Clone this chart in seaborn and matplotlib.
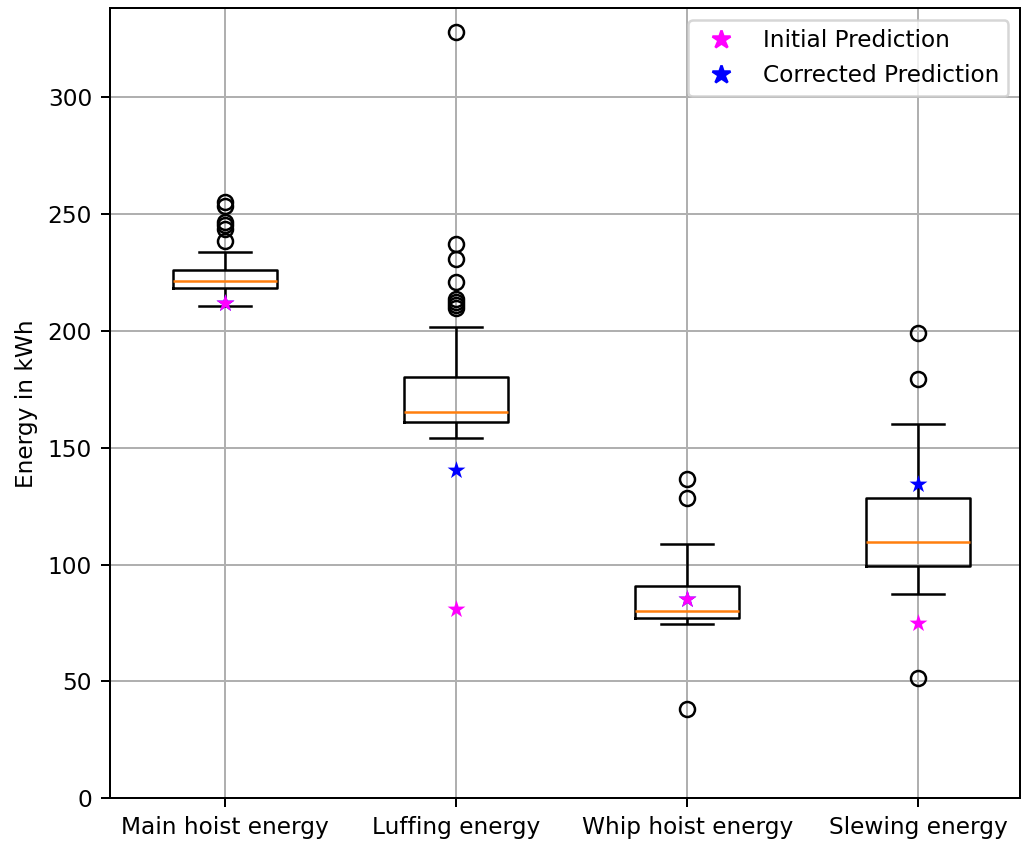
import numpy as np
import pandas as pd
import matplotlib
matplotlib.use("Agg")
import matplotlib.pyplot as plt
from matplotlib.lines import Line2D
import seaborn as sns

categories = ["Main hoist energy", "Luffing energy", "Whip hoist energy", "Slewing energy"]
whisker_low = [210.5, 154.3, 74.7, 87.5]
q1 = [218.5, 160.9, 77.2, 99.3]
median = [221.3, 165.3, 80.3, 109.7]
q3 = [226.2, 180.1, 90.7, 128.5]
whisker_high = [233.6, 201.6, 108.7, 160.0]
outliers_low = [[], [], [38.0], [51.6]]
outliers_high = [[238.3, 243.4, 245.2, 246.6, 253.4, 255.0],
                 [209.8, 211.2, 212.5, 213.8, 221.1, 230.6, 237.3, 327.9],
                 [128.4, 136.5],
                 [179.2, 199.1]]
initial_pred = [211.8, 81.1, 85.4, 75.1]
corrected_pred = [211.8, 140.6, 85.4, 134.6]

# Build a sample per category whose quartiles/whiskers/outliers reproduce the read stats
rows = []
for i, cat in enumerate(categories):
    L, H = outliers_low[i], outliers_high[i]
    k = max(len(L) + 1, len(H) + 1)
    low = list(L) + [whisker_low[i]] + [q1[i]] * (k - 1 - len(L))
    mid1 = [q1[i]] + [median[i]] * k
    mid2 = [q3[i]] * k
    high = [q3[i]] * (k - 1 - len(H)) + [whisker_high[i]] + list(H)
    for v in low + mid1 + mid2 + high:
        rows.append((cat, v))
df = pd.DataFrame(rows, columns=["category", "energy"])

plt.rcParams["font.size"] = 9.3

fig = plt.figure(figsize=(1024 / 180, 842 / 180), dpi=180)
ax = fig.add_axes([0.107, 0.052, 0.889, 0.938])

sns.boxplot(data=df, x="category", y="energy", order=categories, ax=ax,
            fill=False, color="black", linecolor="black", width=0.45, linewidth=1,
            whis=1.5, fliersize=6,
            medianprops=dict(color="#ff7f0e", linewidth=1),
            flierprops=dict(marker="o", markerfacecolor="none", markeredgecolor="black"))

pred_df = pd.DataFrame({"category": categories, "initial": initial_pred, "corrected": corrected_pred})
sns.stripplot(data=pred_df, x="category", y="corrected", order=categories, ax=ax,
              jitter=False, marker="*", color="blue", size=7.5, linewidth=0, zorder=5)
sns.stripplot(data=pred_df, x="category", y="initial", order=categories, ax=ax,
              jitter=False, marker="*", color="magenta", size=7.5, linewidth=0, zorder=6)

ax.set_xlim(-0.5, 3.44)
ax.set_ylim(0, 338)
ax.set_yticks([0, 50, 100, 150, 200, 250, 300])
ax.set_xlabel("")
ax.set_ylabel("Energy in kWh")
ax.set_axisbelow(True)
ax.xaxis.grid(True, color="#b0b0b0", linewidth=0.8, zorder=0)
ax.yaxis.grid(True, color="#b0b0b0", linewidth=0.8, zorder=0)

handles = [Line2D([], [], marker="*", color="magenta", linestyle="None", markersize=7.5),
           Line2D([], [], marker="*", color="blue", linestyle="None", markersize=7.5)]
ax.legend(handles, ["Initial Prediction", "Corrected Prediction"], loc="upper right")

fig.savefig("out.png", dpi=180)
